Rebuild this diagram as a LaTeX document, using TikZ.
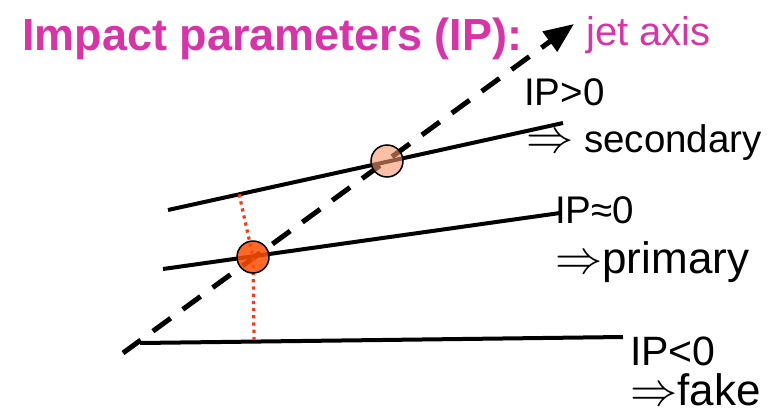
\documentclass[tikz,border=0pt]{standalone}
\usepackage{fontspec}
\usepackage{graphicx}
\setmainfont{Liberation Sans}
\usetikzlibrary{arrows.meta,calc}
\definecolor{titlemag}{RGB}{217,51,169}
\definecolor{pvfill}{RGB}{255,78,0}
\definecolor{svfill}{RGB}{246,150,108}
\definecolor{ipred}{RGB}{255,55,20}
\newcommand{\dbl}{\scalebox{1.9}[1.9]{$\Rightarrow$}}
\begin{document}
\begin{tikzpicture}[x=1pt,y=-1pt,
  track/.style={line width=4pt},
  jetline/.style={line width=5pt,dash pattern=on 22pt off 15pt,-{Triangle[length=30pt,width=24pt]}},
  ipline/.style={ipred,line width=3.2pt,dash pattern=on 3.2pt off 4pt},
  vtx/.style={circle,draw=black,line width=1.5pt,minimum size=32pt,inner sep=0pt},
  lbl/.style={anchor=base west,inner sep=0pt,font=\fontsize{38.5}{44}\selectfont},
  big/.style={anchor=base west,inner sep=0pt,font=\fontsize{44}{50}\selectfont},
  ttl/.style={anchor=base west,inner sep=0pt,text=titlemag}]
\useasboundingbox (0,0) rectangle (780,418);
% track end points
\coordinate (t1a) at (168,210); \coordinate (t1b) at (563,123);
\coordinate (t2a) at (163,269); \coordinate (t2b) at (560,213);
\coordinate (t3a) at (140,343); \coordinate (t3b) at (623,337);
\coordinate (ja) at (123,353);  \coordinate (jb) at (574,24);
\coordinate (pvc) at (253,257); \coordinate (svc) at (387,161);
% tracks
\draw[track] (t1a) -- (t1b);
\draw[track] (t2a) -- (t2b);
\draw[track] (t3a) -- (t3b);
% jet axis
\draw[jetline] (ja) -- (jb);
% impact parameter lines
\coordinate (f1) at ($(t1a)!(pvc)!(t1b)$);
\coordinate (f3) at ($(t3a)!(pvc)!(t3b)$);
\draw[ipline] (f1) -- (pvc) -- (f3);
% vertices
\node[vtx,fill=svfill,fill opacity=0.6,draw opacity=1] (sv) at (svc) {};
\node[vtx,fill=pvfill,fill opacity=0.85,draw opacity=1] (pv) at (pvc) {};
% texts
\node[ttl,font=\fontsize{45}{50}\selectfont\bfseries] (title) at (22,50) {Impact parameters (IP):};
\node[ttl,font=\fontsize{40}{46}\selectfont] (jet) at (586,45) {jet axis};
\node[lbl] (ipgt) at (524,105) {IP>0};
\node[lbl] (sec) at (526,152) {\dbl\ secondary};
\node[lbl] (ipeq) at (555,223) {IP≈0};
\node[big] (prim) at (555,273) {\dbl primary};
\node[lbl,font=\fontsize{41}{46}\selectfont] (iplt) at (630,365) {IP<0};
\node[big] (fake) at (630,405) {\dbl fake};
\end{tikzpicture}
\end{document}
